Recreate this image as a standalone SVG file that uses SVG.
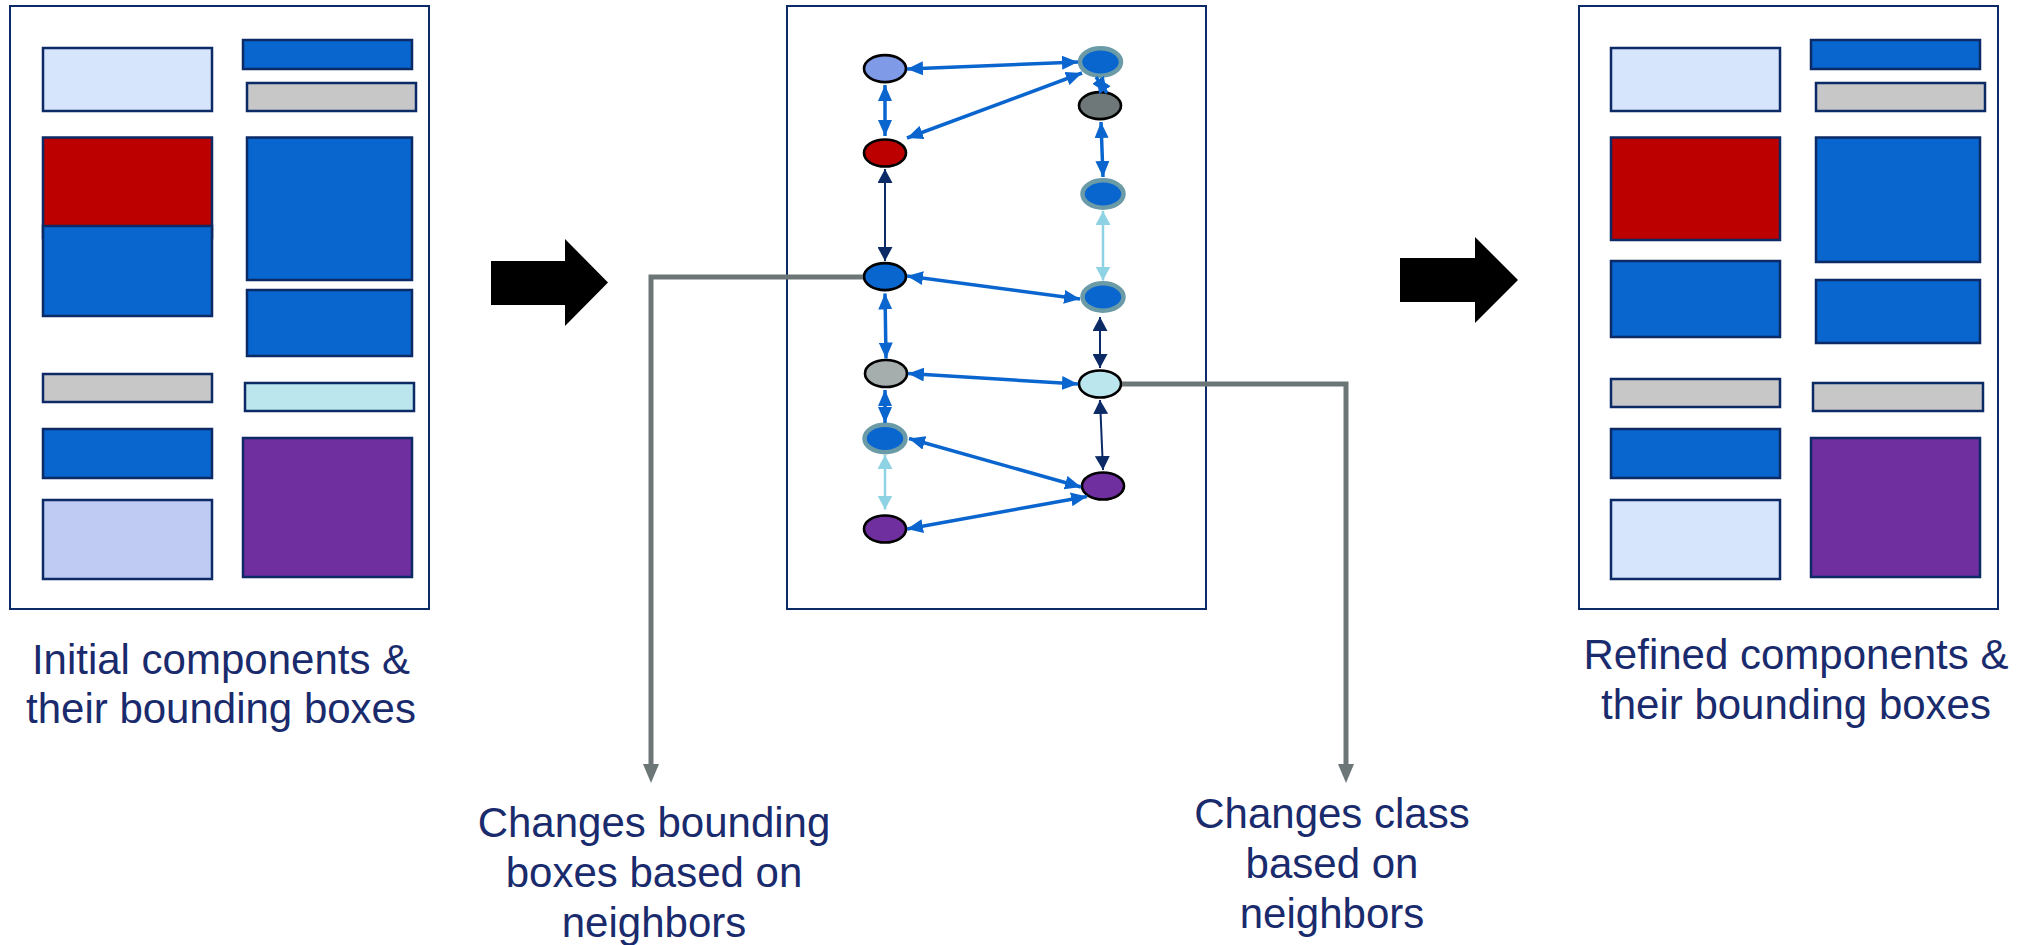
<svg xmlns="http://www.w3.org/2000/svg" width="2023" height="945" viewBox="0 0 2023 945">
  <style>
    .frame { fill: #ffffff; stroke: #0B2A66; stroke-width: 2; }
    .box { stroke: #0B2A66; stroke-width: 2.5; }
    .lb { fill: #D6E5FC; }
    .bl { fill: #0866CE; }
    .gr { fill: #C7C7C7; }
    .rd { fill: #BC0000; }
    .cy { fill: #BCE6EE; }
    .lv { fill: #BFCBF2; }
    .pu { fill: #6F2F9E; }
    .node { stroke: #000000; stroke-width: 2.6; }
    .ring { fill: #0866CE; stroke: #6C9BA8; stroke-width: 4.5; }
    .eb { stroke: #0A66CE; stroke-width: 3.5; fill: none; marker-start: url(#hb); marker-end: url(#hb); }
    .en { stroke: #0B2A66; stroke-width: 2; fill: none; marker-start: url(#hn); marker-end: url(#hn); }
    .ec { stroke: #8ED3E3; stroke-width: 2.5; fill: none; marker-start: url(#hc); marker-end: url(#hc); }
    .lead { stroke: #6C7676; stroke-width: 5; fill: none; }
    .leadhead { fill: #6C7676; }
    .block { fill: #000000; }
    .label { font-family: "Liberation Sans", Arial, sans-serif; font-size: 42px; fill: #1A2B6D; text-anchor: middle; }
  </style>
  <defs>
    <marker id="hb" markerUnits="userSpaceOnUse" viewBox="0 0 16 14" markerWidth="16" markerHeight="14" refX="16" refY="7" orient="auto-start-reverse">
      <path d="M0,0 L16,7 L0,14 Z" fill="#0A66CE"/>
    </marker>
    <marker id="hn" markerUnits="userSpaceOnUse" viewBox="0 0 14 15" markerWidth="14" markerHeight="15" refX="14" refY="7.5" orient="auto-start-reverse">
      <path d="M0,0 L14,7.5 L0,15 Z" fill="#0B2A66"/>
    </marker>
    <marker id="hc" markerUnits="userSpaceOnUse" viewBox="0 0 14 15" markerWidth="14" markerHeight="15" refX="14" refY="7.5" orient="auto-start-reverse">
      <path d="M0,0 L14,7.5 L0,15 Z" fill="#8ED3E3"/>
    </marker>
  </defs>

  <rect width="2023" height="945" fill="#ffffff"/>

  <!-- Left page: initial components -->
  <g id="page-initial">
    <rect class="frame" x="10" y="6" width="419" height="603"/>
    <rect class="box lb" x="43" y="48" width="169" height="63"/>
    <rect class="box bl" x="243" y="40" width="169" height="29"/>
    <rect class="box gr" x="247" y="83" width="169" height="28"/>
    <rect class="box rd" x="43" y="137.5" width="169" height="100.5"/>
    <rect class="box bl" x="43" y="226" width="169" height="90"/>
    <rect class="box bl" x="247" y="137.5" width="165" height="142.5"/>
    <rect class="box bl" x="247" y="290" width="165" height="66"/>
    <rect class="box gr" x="43" y="374" width="169" height="28"/>
    <rect class="box cy" x="245" y="383" width="169" height="28"/>
    <rect class="box bl" x="43" y="429" width="169" height="49"/>
    <rect class="box lv" x="43" y="500" width="169" height="79"/>
    <rect class="box pu" x="243" y="438" width="169" height="139"/>
  </g>

  <!-- Right page: refined components -->
  <g id="page-refined">
    <rect class="frame" x="1579" y="6" width="419" height="603"/>
    <rect class="box lb" x="1611" y="48" width="169" height="63"/>
    <rect class="box bl" x="1811" y="40" width="169" height="29"/>
    <rect class="box gr" x="1816" y="83" width="169" height="28"/>
    <rect class="box rd" x="1611" y="137.5" width="169" height="102.5"/>
    <rect class="box bl" x="1611" y="261" width="169" height="76"/>
    <rect class="box bl" x="1816" y="137.5" width="164" height="124.5"/>
    <rect class="box bl" x="1816" y="280" width="164" height="63"/>
    <rect class="box gr" x="1611" y="379" width="169" height="28"/>
    <rect class="box gr" x="1813" y="383" width="170" height="28"/>
    <rect class="box bl" x="1611" y="429" width="169" height="49"/>
    <rect class="box lb" x="1611" y="500" width="169" height="79"/>
    <rect class="box pu" x="1811" y="438" width="169" height="139"/>
  </g>

  <!-- Middle page: neighbour graph -->
  <g id="page-graph">
    <rect class="frame" x="787" y="6" width="419" height="603"/>
  </g>

  <!-- Block arrows between pages -->
  <g id="step-arrow-1">
    <path class="block" d="M491,261 H565 V239 L608,282.5 L565,326 V305 H491 Z"/>
  </g>
  <g id="step-arrow-2">
    <path class="block" d="M1400,258 H1475 V237 L1518,280 L1475,323 V302 H1400 Z"/>
  </g>

  <!-- Graph nodes -->
  <g id="node-l1"><ellipse class="node" cx="885" cy="68.6" rx="21" ry="13.5" fill="#7F9AE6"/></g>
  <g id="node-l2"><ellipse class="node" cx="885" cy="153" rx="21" ry="13.5" fill="#BC0000"/></g>
  <g id="node-l3"><ellipse class="node" cx="885" cy="276.6" rx="21" ry="13.5" fill="#0866CE"/></g>
  <g id="node-l4"><ellipse class="node" cx="886" cy="373.5" rx="21" ry="13.5" fill="#A6ADAD"/></g>
  <g id="node-l5"><ellipse class="ring" cx="885" cy="438.5" rx="20.5" ry="13.7"/></g>
  <g id="node-l6"><ellipse class="node" cx="885" cy="529" rx="21" ry="13.5" fill="#6F2F9E"/></g>
  <g id="node-r1"><ellipse class="ring" cx="1100.5" cy="62" rx="20.5" ry="13.7"/></g>
  <g id="node-r2"><ellipse class="node" cx="1100" cy="105.6" rx="21" ry="13.5" fill="#6E7878"/></g>
  <g id="node-r3"><ellipse class="ring" cx="1103" cy="194" rx="20.5" ry="13.7"/></g>
  <g id="node-r4"><ellipse class="ring" cx="1103" cy="297" rx="20.5" ry="13.7"/></g>
  <g id="node-r5"><ellipse class="node" cx="1100" cy="384" rx="21" ry="13.5" fill="#BCE6EE"/></g>
  <g id="node-r6"><ellipse class="node" cx="1103" cy="486" rx="21" ry="13.5" fill="#6F2F9E"/></g>

  <!-- Graph edges and leader lines -->
  <g id="connectors">
    <path class="eb" d="M907,69 L1078,62"/>
    <path class="eb" d="M885,85 L885,136"/>
    <path class="eb" d="M907,138 L1082,73"/>
    <path class="eb" d="M1096,77 L1107,93"/>
    <path class="eb" d="M1101,122 L1103,177"/>
    <path class="eb" d="M907,276 L1080,299"/>
    <path class="eb" d="M885,293.5 L886,358.5"/>
    <path class="eb" d="M908,373.5 L1078,384"/>
    <path class="eb" d="M885,390 L885,423"/>
    <path class="eb" d="M909,438.5 L1081,487"/>
    <path class="eb" d="M907,529 L1087,496.5"/>

    <path class="en" d="M885,169 L885,261"/>
    <path class="en" d="M1100,317 L1100,368"/>
    <path class="en" d="M1100,400 L1103,470"/>

    <path class="ec" d="M1103,211 L1103,280.5"/>
    <path class="ec" d="M885,455 L885,509.5"/>

    <path class="lead" d="M863,277 H651 V766"/>
    <path class="leadhead" d="M643,764 L659,764 L651,783 Z"/>
    <path class="lead" d="M1122,384 H1346 V766"/>
    <path class="leadhead" d="M1338,764 L1354,764 L1346,783 Z"/>
  </g>

  <!-- Captions -->
  <g id="caption-initial">
    <text class="label" x="221" y="674">Initial components &amp;</text>
    <text class="label" x="221" y="723">their bounding boxes</text>
  </g>
  <g id="caption-refined">
    <text class="label" x="1796" y="669">Refined components &amp;</text>
    <text class="label" x="1796" y="719">their bounding boxes</text>
  </g>
  <g id="caption-bbox">
    <text class="label" x="654" y="837">Changes bounding</text>
    <text class="label" x="654" y="887">boxes based on</text>
    <text class="label" x="654" y="937">neighbors</text>
  </g>
  <g id="caption-class">
    <text class="label" x="1332" y="828">Changes class</text>
    <text class="label" x="1332" y="878">based on</text>
    <text class="label" x="1332" y="928">neighbors</text>
  </g>
</svg>
